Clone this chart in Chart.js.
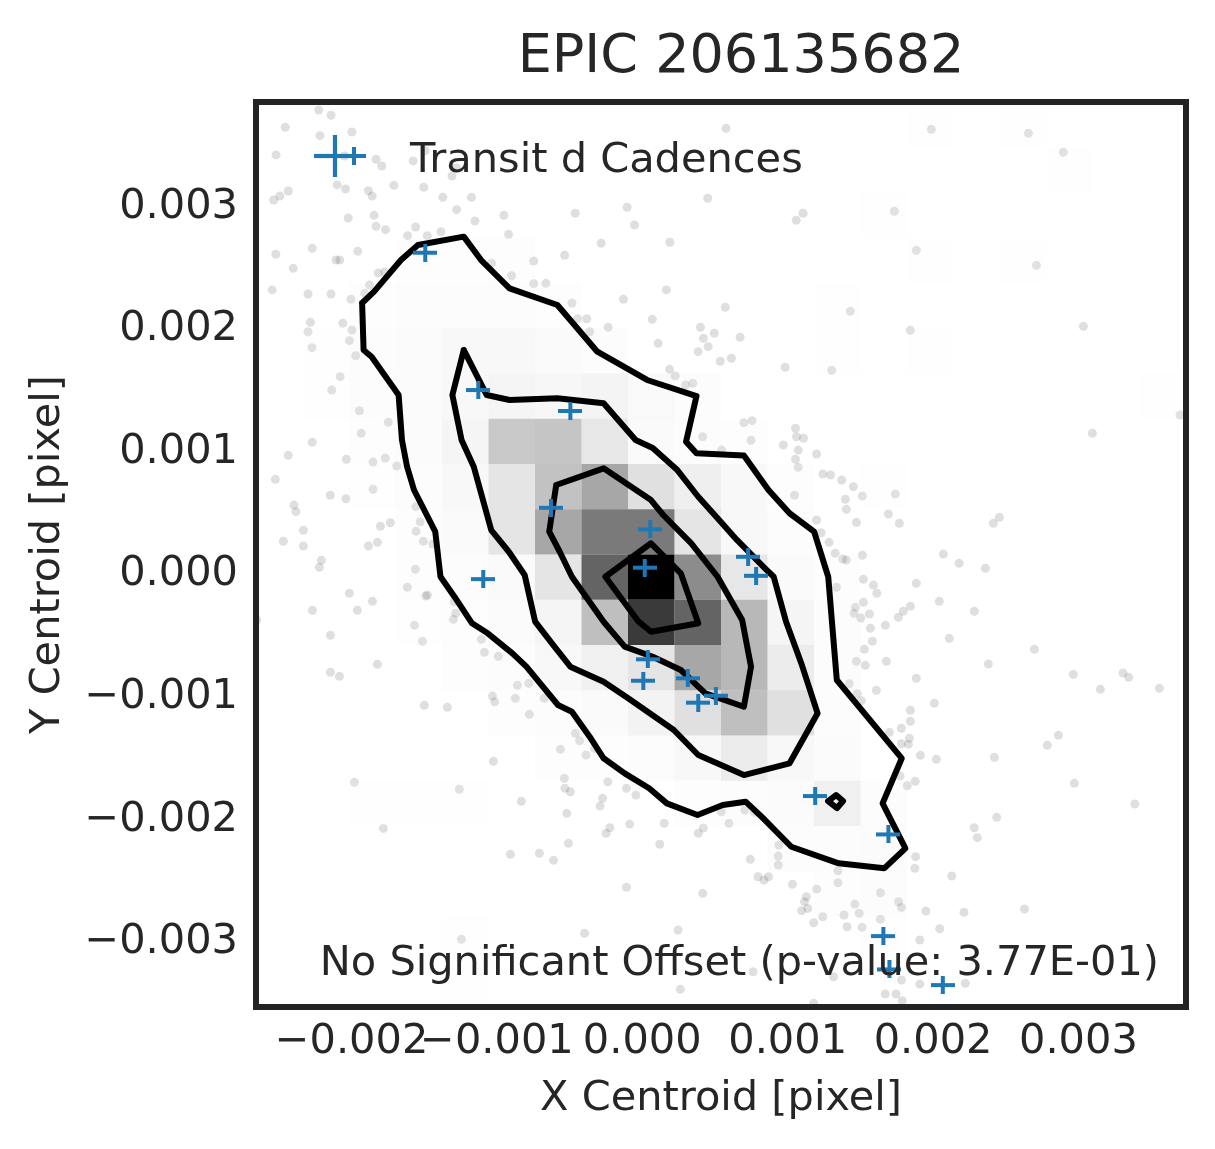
<!DOCTYPE html>
<html>
<head>
<meta charset="utf-8">
<title>EPIC 206135682</title>
<script src="https://cdn.jsdelivr.net/npm/chart.js@4.4.0/dist/chart.umd.min.js"></script>
<style>
  html, body { margin: 0; padding: 0; background: #fff; }
</style>
</head>
<body>
<canvas id="centroid" width="1215" height="1149"></canvas>
<script>
// axis extents and ticks
const xRange = [-0.002657, 0.003740];
const yRange = [-0.003553, 0.003834];
const xTickValues = [-0.002, -0.001, 0, 0.001, 0.002, 0.003];
const yTickValues = [-0.003, -0.002, -0.001, 0, 0.001, 0.002, 0.003];

// all cadences (faint background points)
const bgX = [
  -0.002225, -0.002141, -0.002456, -0.002217, -0.001997, -0.002519, -0.002049, -0.001831, -0.001792, -0.001576,
  -0.001493, -0.001309, -0.001280, 0.000576, -0.002099, -0.002041, -0.001884, -0.001858, -0.001708, -0.001503,
  -0.001372, -0.001175, -0.002535, -0.002493, -0.002435, -0.002023, -0.001845, -0.001831, -0.001766, -0.001614,
  -0.001559, -0.001479, -0.001385, -0.000952, -0.001151, -0.001277, -0.000920, -0.000461, -0.000104, -0.000054,
  0.000450, 0.001106, 0.001059, -0.000283, 0.000190, -0.002521, -0.002270, -0.001957, -0.002401, -0.002107,
  -0.002081, -0.001816, -0.001771, -0.001876, -0.000747, -0.000534, -0.001036, -0.002546, -0.002299, -0.002141,
  -0.002004, -0.001910, -0.000899, -0.000747, -0.000663, -0.000484, 0.000166, -0.000130, 0.000571, -0.002283,
  -0.002060, -0.002299, -0.001997, -0.002015, -0.002272, -0.000445, -0.000382, -0.000235, -0.000361, 0.000069,
  0.000400, 0.000495, 0.000673, 0.000421, 0.000384, 0.000453, 0.000536, 0.000613, 0.000109, 0.000188,
  0.000227, 0.000298, 0.000347, 0.000983, 0.001303, -0.001971, -0.002078, -0.002136, -0.001946,
  -0.001747, -0.002270, -0.002435, -0.002036, -0.001852, -0.001768, -0.001689, -0.001933, -0.002524, -0.002146,
  -0.002039, -0.001852, -0.002396, -0.002382,
  0.000699, 0.000755, 0.001054, 0.001061, 0.001109, 0.000748, 0.000970, 0.001073, 0.001199, 0.001054,
  0.001073, 0.000545, 0.000415, 0.001242, 0.001295, 0.001047, 0.001199, 0.001230, 0.001285, 0.001327,
  0.001336, 0.001346, -0.001557, -0.000459, -0.000431, -0.000563, -0.000387, -0.000327, -0.000536, -0.000532,
  -0.000495, -0.000237, -0.000109, -0.000044, -0.000273, -0.000290, -0.000519, -0.000223, -0.000249, -0.000087,
  0.000151, 0.000420, 0.000385, 0.000596, 0.000543, 0.000706, 0.000120, -0.000508, -0.000611, 0.000743,
  0.000940, 0.000935, 0.000935, 0.000796, 0.000868, 0.000772,
  -0.002469, -0.002331, -0.002331, -0.002207, -0.002221, -0.001884, -0.001822, -0.001801, -0.001733, -0.001556,
  -0.001506, -0.001528, -0.001441, -0.001561, -0.001616, -0.002015, -0.001856, -0.001960, -0.002269, -0.001489,
  -0.001478, -0.001294, -0.001283, -0.001299, -0.001567, -0.001512, -0.001107, -0.001086, -0.000990, -0.002145,
  -0.001822, -0.002145, -0.002083, -0.001499, -0.001341, -0.001031, -0.001015, -0.000873, -0.000859, -0.000781,
  -0.000777, -0.000675, -0.002652, -0.001024, -0.001980, -0.001258, -0.000832, -0.001781, -0.000907, -0.000708, -0.001244,
  0.001988, 0.002656, 0.002896, 0.001734, 0.001885, 0.002711, 0.001431, 0.001844, 0.003034, 0.003699, 0.003096,
  0.001372, 0.001452, 0.001397, 0.001514, 0.001741, 0.001404, 0.001693, 0.001473, 0.001768, 0.002456,
  0.002415, 0.001379, 0.001404, 0.001514, 0.002071, 0.002179, 0.002360, 0.001521, 0.001590, 0.001613,
  0.001885, 0.002043, 0.002284, 0.001521, 0.001466, 0.001457, 0.001503, 0.001562, 0.001672, 0.001761,
  0.001796, 0.001844, 0.001569, 0.001583, 0.002112, 0.001528, 0.002697, 0.001473, 0.001534, 0.001679,
  0.002380, 0.002965, 0.003307, 0.003346, 0.003151, 0.003557, 0.001885, 0.001424, 0.001479, 0.001507,
  0.001610, 0.002009, 0.001844, 0.001844, 0.001782, 0.001700, 0.001837, 0.001782, 0.001830, 0.001913,
  0.002023, 0.002422, 0.002862, 0.002786, 0.001773, 0.001823, 0.001878, 0.002972,
  -0.000109, 0.000416, 0.000837, 0.001033, 0.001129, 0.001200, 0.001346, 0.001116, 0.001138, 0.001096,
  0.001241, 0.001179, 0.001387, 0.001462, 0.001492, 0.001638, 0.001763, 0.001783, 0.001951, 0.002046,
  0.002213, 0.002629, 0.000246, -0.000397, 0.001638, 0.001409, 0.001512, 0.001909, 0.000762, 0.001316,
  0.001783, 0.001909, 0.002222, 0.000262, 0.001671, 0.001746, 0.001788, 0.001179,
  0.001880, 0.001875, 0.002129, 0.002283, 0.002305, 0.002438, 0.003388
];
const bgY = [
  0.003769, 0.003726, 0.003628, 0.003559, 0.003589, 0.003402, 0.003393, 0.003366, 0.003312, 0.003353,
  0.003437, 0.003230, 0.003298, 0.003620, 0.003157, 0.003124, 0.003110, 0.003067, 0.003154, 0.003138,
  0.003056, 0.003056, 0.003034, 0.003067, 0.003108, 0.002887, 0.002909, 0.002820, 0.002792, 0.002743,
  0.002814, 0.002743, 0.002775, 0.002909, 0.002863, 0.002955, 0.002754, 0.002926, 0.002975, 0.002830,
  0.003048, 0.002926, 0.002868, 0.002681, 0.002689, 0.002591, 0.002640, 0.002615, 0.002477, 0.002544,
  0.002544, 0.002438, 0.002446, 0.002340, 0.002536, 0.002583, 0.002517, 0.002300, 0.002267, 0.002267,
  0.002224, 0.002273, 0.002416, 0.002351, 0.002354, 0.002193, 0.002300, 0.002224, 0.002158, 0.002036,
  0.002028, 0.001959, 0.001973, 0.001886, 0.001829, 0.002065, 0.002065, 0.001995, 0.001959, 0.002060,
  0.001995, 0.001946, 0.001913, 0.001905, 0.001796, 0.001837, 0.001718, 0.001742, 0.001864, 0.001652,
  0.001598, 0.001524, 0.001538, 0.001669, 0.001644, 0.001763, 0.001592, 0.001483, 0.001314,
  0.001220, 0.001056, 0.000950, 0.000918, 0.000895, 0.000928, 0.000863, 0.001130, 0.000754, 0.000624,
  0.000596, 0.000673, 0.000544, 0.000490,
  0.001216, 0.001233, 0.001171, 0.001102, 0.001089, 0.001073, 0.001034, 0.000993, 0.000961, 0.000918,
  0.000852, 0.000993, 0.001102, 0.000798, 0.000789, 0.000624, 0.000422, 0.000318, 0.000240, 0.000150,
  -0.000127, -0.002441, 0.000531, -0.001319, -0.001380, -0.001450, -0.001496, -0.001442, -0.001686, -0.001768,
  -0.001796, -0.001714, -0.001768, -0.001823, -0.001850, -0.001913, -0.001972, -0.002090, -0.002135, -0.002060,
  -0.002054, -0.002092, -0.002135, -0.002054, -0.001959, -0.001945, -0.002225, -0.002217, -0.002356, -0.002348,
  -0.002231, -0.002321, -0.002394, -0.002490, -0.002490, -0.001964,
  0.000248, 0.000338, 0.000210, 0.000093, 0.000036, 0.000210, 0.000240, 0.000371, 0.000400, 0.000330,
  0.000248, 0.000408, 0.000226, 0.000020, -0.000127, -0.000176, -0.000242, -0.000315, -0.000315, -0.000198,
  -0.000190, -0.000245, -0.000340, -0.000389, -0.000438, -0.000568, -0.000552, -0.000658, -0.000691, -0.000519,
  -0.000756, -0.000821, -0.000854, -0.001091, -0.001107, -0.001015, -0.001061, -0.001033, -0.000927, -0.000911,
  -0.001164, -0.001033, -0.000394, -0.001548, -0.001719, -0.001776, -0.001874, -0.002095, -0.002307, -0.002299, -0.003001,
  0.003611, 0.003579, 0.003424, 0.002942, 0.002624, 0.002501, 0.002126, 0.001971, 0.002003, 0.001279, 0.001130,
  0.000749, 0.000694, 0.000591, 0.000618, 0.000634, 0.000509, 0.000471, 0.000403, 0.000395, 0.000444,
  0.000395, 0.000104, 0.000096, 0.000134, 0.000144, 0.000069, 0.000028, -0.000062, -0.000109, -0.000176,
  -0.000095, -0.000242, -0.000323, -0.000250, -0.000291, -0.000340, -0.000378, -0.000345, -0.000438, -0.000372,
  -0.000323, -0.000282, -0.000462, -0.000568, -0.000544, -0.000633, -0.000633, -0.000731, -0.000764, -0.000731,
  -0.000753, -0.000838, -0.000827, -0.000862, -0.000960, -0.000952, -0.000870, -0.000914, -0.000996, -0.001053,
  -0.000968, -0.001074, -0.001131, -0.001221, -0.001278, -0.001311, -0.001360, -0.001404, -0.001409, -0.001499,
  -0.001531, -0.001515, -0.001335, -0.001417, -0.001668, -0.001747, -0.001711, -0.001727,
  -0.002576, -0.002625, -0.002517, -0.002552, -0.002653, -0.002590, -0.002539, -0.002694, -0.002748, -0.002767,
  -0.002816, -0.002865, -0.002802, -0.002713, -0.002788, -0.002620, -0.002694, -0.002740, -0.002770, -0.002914,
  -0.002780, -0.002753, -0.002925, -0.002952, -0.002837, -0.002898, -0.002903, -0.003006, -0.003265, -0.003306,
  -0.003333, -0.003366, -0.003360, -0.003409, -0.003447, -0.003447, -0.003502, -0.003523,
  -0.002326, -0.002421, -0.002484, -0.002090, -0.002171, -0.002005, -0.001896
];

// transit d cadences
const transitX = [-0.001493, -0.001128, -0.000495, -0.000628, 0.000055, 0.000017, -0.001094, 0.000728, 0.000783, 0.000038,
                  0.000007, 0.000313, 0.000506, 0.000385, 0.001189, 0.001693, 0.001658, 0.001700, 0.002067];
const transitY = [0.002604, 0.001483, 0.001312, 0.000522, 0.000346, 0.000033, -0.000060, 0.000122, -0.000033, -0.000715,
                  -0.000890, -0.000870, -0.001012, -0.001069, -0.001831, -0.002144, -0.002974, -0.003246, -0.003374];

// density contours (outermost first)
const outerX = [-0.001927, -0.001845, -0.001660, -0.001543, -0.001228, -0.001109, -0.000913, -0.000584, -0.000309, 0.000033,
                0.000373, 0.000301, 0.000373, 0.000699, 0.000868, 0.001013, 0.001182, 0.001279, 0.001338, 0.001785,
                0.001653, 0.001810, 0.001664, 0.001351, 0.001025, 0.000844, 0.000711, 0.000554, 0.000380, 0.000169,
                0.000047, -0.000121, -0.000266, -0.000362, -0.000484, -0.000580, -0.000797, -0.000893, -0.001063, -0.001171,
                -0.001292, -0.001388, -0.001424, -0.001570, -0.001618, -0.001653, -0.001676, -0.001862, -0.001917];
const outerY = [0.002193, 0.002286, 0.002544, 0.002667, 0.002735, 0.002544, 0.002313, 0.002177, 0.001796, 0.001565,
                0.001434, 0.001061, 0.000966, 0.000949, 0.000667, 0.000477, 0.000327, -0.000041, -0.000884, -0.001523,
                -0.001891, -0.002258, -0.002421, -0.002380, -0.002245, -0.002027, -0.001877, -0.001904, -0.001986, -0.001891,
                -0.001768, -0.001646, -0.001523, -0.001347, -0.001143, -0.001088, -0.000775, -0.000666, -0.000503, -0.000421,
                -0.000204, -0.000041, 0.000327, 0.000667, 0.000857, 0.001075, 0.001442, 0.001755, 0.001810];
const midX = [-0.001228, -0.001070, -0.000913, -0.000584, -0.000266, -0.000046, 0.000072, 0.000241, 0.000385, 0.000518,
              0.000651, 0.000844, 0.000904, 0.000989, 0.001098, 0.001206, 0.001013, 0.000699, 0.000385, 0.000217,
              -0.000097, -0.000266, -0.000495, -0.000604, -0.000737, -0.000809, -0.000918, -0.001039, -0.001159, -0.001243, -0.001306];
const midY = [0.001810, 0.001442, 0.001402, 0.001415, 0.001375, 0.001075, 0.001010, 0.000830, 0.000612, 0.000436,
              0.000259, 0.000028, -0.000041, -0.000408, -0.000762, -0.001156, -0.001564, -0.001660, -0.001496, -0.001292,
              -0.001033, -0.000898, -0.000775, -0.000612, -0.000408, -0.000027, 0.000163, 0.000340, 0.000857, 0.001075, 0.001442];
const innerX = [-0.000592, -0.000266, 0.000060, 0.000144, 0.000337, 0.000518, 0.000687, 0.000748, 0.000699,
                0.000434, 0.000265, 0.000072, -0.000121, -0.000266, -0.000387, -0.000484, -0.000568, -0.000640];
const innerY = [0.000708, 0.000844, 0.000585, 0.000463, 0.000232, -0.000041, -0.000394, -0.000775, -0.001102,
                -0.000993, -0.000802, -0.000694, -0.000612, -0.000408, -0.000204, -0.000041, 0.000163, 0.000327];
const coreX = [-0.000254, 0.000060, 0.000265, 0.000385, 0.000060, -0.000025];
const coreY = [-0.000041, 0.000232, -0.000013, -0.000421, -0.000490, -0.000408];
const blipX = [0.001278, 0.001333, 0.001381, 0.001340];
const blipY = [-0.001872, -0.001823, -0.001872, -0.001929];

// 2d histogram, 20 x 20 bins over the axis extents, relative to the peak bin
// row 0 = highest Y, column 0 = lowest X
const densityRows = [
  [0, 0, 0, 0, 0, 0, 0, 0, 0, 0, 0, 0, 0, 0, .07, 0, .06, 0, 0, 0],
  [0, 0, 0, 0, 0, 0, 0, 0, 0, 0, 0, 0, 0, 0, 0, 0, 0, .07, 0, 0],
  [0, 0, 0, 0, 0, 0, 0, 0, 0, 0, 0, 0, 0, .07, 0, 0, 0, 0, 0, 0],
  [0, 0, 0, .09, .09, .08, 0, 0, 0, 0, 0, 0, 0, 0, .07, 0, .07, 0, 0, 0],
  [0, 0, .08, .11, .11, .10, .08, 0, 0, 0, 0, 0, .07, 0, 0, 0, 0, 0, 0, 0],
  [0, .07, .10, .13, .17, .16, .14, .11, 0, 0, 0, 0, .07, 0, .07, 0, 0, 0, 0, 0],
  [0, .07, .10, .13, .16, .20, .18, .21, .15, .11, 0, 0, 0, 0, 0, 0, 0, 0, 0, .07],
  [0, 0, .08, .12, .20, .46, .48, .31, .14, .11, .09, 0, 0, 0, 0, 0, 0, 0, 0, 0],
  [0, 0, .07, .10, .17, .32, .49, .59, .35, .25, .16, .09, 0, .07, 0, 0, 0, 0, 0, 0],
  [0, 0, 0, .09, .14, .32, .59, .72, .72, .32, .17, .10, 0, 0, 0, 0, 0, 0, 0, 0],
  [0, 0, 0, .08, .10, .14, .32, .78, 1, .67, .31, .14, .08, 0, 0, 0, 0, 0, 0, 0],
  [0, 0, 0, .07, .09, .13, .20, .50, .88, .78, .53, .20, .11, 0, 0, 0, 0, 0, 0, 0],
  [0, 0, 0, 0, .08, .11, .17, .24, .32, .59, .53, .27, .11, 0, 0, 0, 0, 0, 0, 0],
  [0, 0, 0, 0, 0, .08, .10, .14, .22, .35, .50, .35, .11, 0, 0, 0, 0, 0, 0, 0],
  [0, 0, 0, 0, 0, 0, .08, .09, .11, .17, .27, .17, .13, 0, 0, 0, 0, 0, 0, 0],
  [0, 0, .07, .07, .07, 0, 0, 0, 0, .09, .10, .13, .24, .10, 0, 0, 0, 0, 0, 0],
  [0, 0, 0, 0, 0, 0, 0, 0, 0, 0, 0, .10, .11, .13, 0, 0, 0, 0, 0, 0],
  [0, 0, 0, 0, 0, 0, 0, 0, 0, 0, 0, 0, .09, .10, 0, 0, 0, 0, 0, 0],
  [0, 0, 0, 0, .07, 0, 0, 0, 0, 0, 0, 0, 0, .07, 0, 0, 0, 0, 0, 0],
  [0, 0, 0, 0, .06, 0, 0, 0, 0, 0, 0, 0, 0, 0, 0, 0, 0, 0, 0, 0]
];

const titleText = 'EPIC 206135682';
const legendText = 'Transit d Cadences';
const noteText = 'No Significant Offset (p-value: 3.77E-01)';

const TEXT = '#262626';
const BLUE = '#1f77b4';
const FONT = 'DejaVu Sans';

function toPoints(xs, ys, close) {
  const pts = xs.map((v, i) => ({x: v, y: ys[i]}));
  if (close) pts.push(pts[0]);
  return pts;
}

function fmtTick(v) {
  return Number(v).toFixed(3).replace('-', '\u2212');
}

// plus glyph as drawn by the original (a bit wider than tall)
function plusGlyph(w, h, lw) {
  const c = document.createElement('canvas');
  c.width = w;
  c.height = h;
  const g = c.getContext('2d');
  g.fillStyle = BLUE;
  g.fillRect(0, (h - lw) / 2, w, lw);
  g.fillRect((w - lw) / 2, 0, lw, h);
  return c;
}
const smallPlus = plusGlyph(24, 18, 4);
const bigPlus = plusGlyph(42, 42, 4.2);

function contour(xs, ys) {
  return {
    data: toPoints(xs, ys, true),
    showLine: true,
    borderColor: '#000',
    borderWidth: 6,
    borderJoinStyle: 'round',
    borderCapStyle: 'round',
    pointRadius: 0,
    tension: 0,
    fill: false
  };
}

const BG_INDEX = 6;

const mplLook = {
  id: 'mplLook',
  afterDatasetDraw(chart, args) {
    if (args.index !== BG_INDEX) return;
    const {ctx, chartArea: ca} = chart;
    const sx = chart.scales.x, sy = chart.scales.y;
    ctx.save();
    ctx.beginPath();
    ctx.rect(ca.left, ca.top, ca.width, ca.height);
    ctx.clip();
    // white base inside the lowest contour hides the dense points
    ctx.beginPath();
    outerX.forEach((v, i) => {
      const px = sx.getPixelForValue(v), py = sy.getPixelForValue(outerY[i]);
      if (i) ctx.lineTo(px, py); else ctx.moveTo(px, py);
    });
    ctx.closePath();
    ctx.fillStyle = '#fff';
    ctx.fill();
    // histogram cells, black -> transparent white
    const ny = densityRows.length, nx = densityRows[0].length;
    const dx = (xRange[1] - xRange[0]) / nx, dy = (yRange[1] - yRange[0]) / ny;
    densityRows.forEach((row, j) => row.forEach((d, i) => {
      if (!d) return;
      const x0 = sx.getPixelForValue(xRange[0] + i * dx);
      const x1 = sx.getPixelForValue(xRange[0] + (i + 1) * dx);
      const y0 = sy.getPixelForValue(yRange[1] - j * dy);
      const y1 = sy.getPixelForValue(yRange[1] - (j + 1) * dy);
      const c = Math.round(255 * (1 - d));
      ctx.fillStyle = 'rgba(' + c + ',' + c + ',' + c + ',' + d + ')';
      ctx.fillRect(x0, y0, x1 - x0, y1 - y0);
    }));
    ctx.restore();
  },
  afterDraw(chart) {
    const {ctx, chartArea: ca} = chart;
    ctx.save();
    // frame
    ctx.strokeStyle = '#232323';
    ctx.lineWidth = 6;
    ctx.strokeRect(ca.left, ca.top, ca.width, ca.height);

    // title
    ctx.fillStyle = TEXT;
    ctx.font = '54px "' + FONT + '"';
    ctx.textAlign = 'center';
    ctx.textBaseline = 'alphabetic';
    ctx.fillText(titleText, (ca.left + ca.right) / 2 + 20, ca.top - 30);

    // legend
    ctx.drawImage(bigPlus, ca.left + 79 - bigPlus.width / 2, ca.top + 54 - bigPlus.height / 2);
    ctx.drawImage(smallPlus, ca.left + 98 - smallPlus.width / 2, ca.top + 54 - smallPlus.height / 2);
    ctx.font = '41.5px "' + FONT + '"';
    ctx.textAlign = 'left';
    ctx.fillStyle = TEXT;
    ctx.fillText(legendText, ca.left + 154, ca.top + 69.5);

    // offset note
    ctx.textAlign = 'right';
    ctx.fillText(noteText, ca.right - 27, ca.bottom - 32);
    ctx.restore();
  }
};

Chart.defaults.font.family = FONT;
Chart.defaults.color = TEXT;

new Chart(document.getElementById('centroid'), {
  type: 'scatter',
  data: {
    datasets: [
      {
        label: legendText,
        data: toPoints(transitX, transitY),
        pointStyle: smallPlus,
        pointRadius: 11,
        borderColor: BLUE,
        backgroundColor: BLUE
      },
      contour(outerX, outerY),
      contour(midX, midY),
      contour(innerX, innerY),
      contour(coreX, coreY),
      contour(blipX, blipY),
      {
        label: 'all cadences',
        data: toPoints(bgX, bgY),
        pointRadius: 4.5,
        pointBorderWidth: 0,
        pointBackgroundColor: 'rgba(0,0,0,0.125)',
        backgroundColor: 'rgba(0,0,0,0.125)',
        borderColor: 'rgba(0,0,0,0)'
      }
    ]
  },
  options: {
    responsive: false,
    animation: false,
    events: [],
    layout: { padding: { top: 102, left: 0, right: 29, bottom: 0 } },
    plugins: {
      legend: { display: false },
      tooltip: { enabled: false },
      title: { display: false }
    },
    scales: {
      x: {
        type: 'linear',
        min: xRange[0],
        max: xRange[1],
        grid: { display: false, drawTicks: false },
        border: { display: false },
        afterBuildTicks: (s) => { s.ticks = xTickValues.map(v => ({value: v})); },
        afterFit: (s) => { s.height = 142; },
        ticks: {
          autoSkip: false,
          maxRotation: 0,
          minRotation: 0,
          padding: 10,
          color: TEXT,
          font: { size: 41.5 },
          callback: (v) => fmtTick(v)
        },
        title: {
          display: true,
          text: 'X Centroid [pixel]',
          color: TEXT,
          font: { size: 41.5 },
          padding: { top: 0, bottom: 25 }
        }
      },
      y: {
        type: 'linear',
        min: yRange[0],
        max: yRange[1],
        grid: { display: false, drawTicks: false },
        border: { display: false },
        afterBuildTicks: (s) => { s.ticks = yTickValues.map(v => ({value: v})); },
        afterFit: (s) => { s.width = 256; },
        ticks: {
          autoSkip: false,
          padding: 18,
          labelOffset: 3,
          color: TEXT,
          font: { size: 41.5 },
          callback: (v) => fmtTick(v)
        },
        title: {
          display: true,
          text: 'Y Centroid [pixel]',
          color: TEXT,
          font: { size: 41.5 },
          padding: { top: 23, bottom: 0 }
        }
      }
    }
  },
  plugins: [mplLook]
});
</script>
</body>
</html>
